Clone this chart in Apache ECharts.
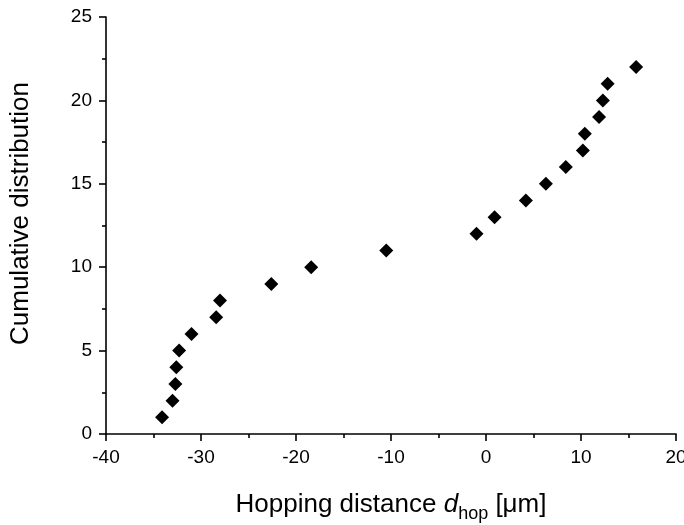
<!DOCTYPE html>
<html><head><meta charset="utf-8">
<script src="https://cdn.jsdelivr.net/npm/echarts@6/dist/echarts.min.js"></script>
<style>html,body{margin:0;padding:0;background:#fff}#c{width:684px;height:525px}</style>
</head><body><div id="c"></div>
<script>
const hopDistance = [-34.1, -33.0, -32.7, -32.6, -32.3, -31.0, -28.4, -28.0, -22.6, -18.4, -10.5, -1.0, 0.9, 4.2, 6.3, 8.4, 10.2, 10.4, 11.9, 12.3, 12.8, 15.8];
const cumulative = [1, 2, 3, 4, 5, 6, 7, 8, 9, 10, 11, 12, 13, 14, 15, 16, 17, 18, 19, 20, 21, 22];
const xTicks = [-40, -30, -20, -10, 0, 10, 20];
const yTicks = [0, 5, 10, 15, 20, 25];

const font = 'Liberation Sans, Arial, sans-serif';
const chart = echarts.init(document.getElementById('c'));
const axisCommon = {
  axisLine: {show: true, onZero: false, lineStyle: {color: '#000', width: 1.6}},
  axisTick: {show: true, inside: false, length: 7, lineStyle: {color: '#000', width: 1.6}},
  minorTick: {show: true, splitNumber: 2, length: 4, lineStyle: {color: '#000', width: 1.6}},
  splitLine: {show: false},
  axisLabel: {color: '#000', fontSize: 19, fontFamily: font},
  nameMoveOverlap: false
};
chart.setOption({
  animation: false,
  backgroundColor: '#fff',
  grid: {left: 106, right: 8, top: 17, bottom: 91, containLabel: false, outerBoundsMode: 'none'},
  xAxis: Object.assign({}, axisCommon, {
    type: 'value', min: xTicks[0], max: xTicks[xTicks.length - 1], interval: 10,
    axisLabel: Object.assign({}, axisCommon.axisLabel, {margin: 14}),
    name: 'Hopping distance {i|d}{sub|hop} [μm]',
    nameLocation: 'middle', nameGap: 53,
    nameTextStyle: {
      color: '#000', fontSize: 26, fontFamily: font,
      rich: {
        i: {fontSize: 26, fontStyle: 'italic', fontFamily: font, color: '#000'},
        sub: {fontSize: 18, fontFamily: font, color: '#000', verticalAlign: 'bottom', padding: [18, 0, 0, 0]}
      }
    }
  }),
  yAxis: Object.assign({}, axisCommon, {
    type: 'value', min: yTicks[0], max: yTicks[yTicks.length - 1], interval: 5,
    axisLabel: Object.assign({}, axisCommon.axisLabel, {margin: 14}),
    name: 'Cumulative distribution',
    nameLocation: 'middle', nameGap: 72, nameRotate: 90,
    nameTextStyle: {color: '#000', fontSize: 26, fontFamily: font, padding: [0, 0, 0, 24]}
  }),
  series: [{
    type: 'scatter',
    symbol: 'diamond',
    symbolSize: 14,
    itemStyle: {color: '#000', opacity: 1},
    data: hopDistance.map((x, i) => [x, cumulative[i]])
  }]
});
</script></body></html>
